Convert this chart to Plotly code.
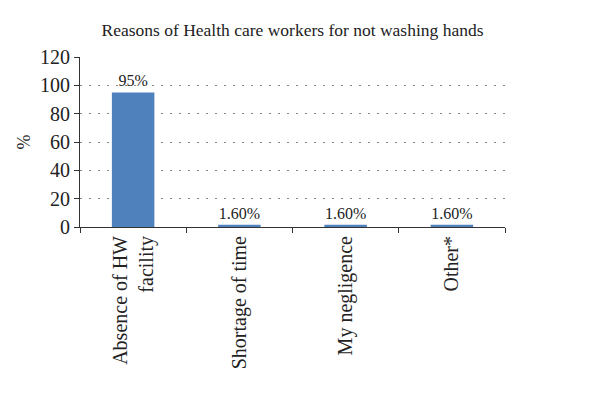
import plotly.graph_objects as go

categories = ["Absence of HW<br>facility", "Shortage of time", "My negligence", "Other*"]
values = [95, 1.6, 1.6, 1.6]
labels = ["95%", "1.60%", "1.60%", "1.60%"]
y_ticks = [0, 20, 40, 60, 80, 100, 120]

font_family = "Liberation Serif, Times New Roman, serif"

fig = go.Figure(go.Bar(
    x=categories, y=values, text=labels, textposition="outside",
    textfont=dict(family=font_family, size=16, color="#222"),
    marker=dict(color="#4F81BD", line=dict(width=0)),
    cliponaxis=False,
))

fig.update_layout(
    width=600, height=395,
    margin=dict(l=72, r=103, t=49, b=176),
    paper_bgcolor="white", plot_bgcolor="white",
    bargap=0.6,
    showlegend=False,
    font=dict(family=font_family, size=18, color="#222"),
    title=dict(text="Reasons of Health care workers for not washing hands",
               xref="paper", x=0.5, xanchor="center", y=1 - 22 / 395, yanchor="middle",
               font=dict(family=font_family, size=17.5, color="#222")),
)
fig.update_xaxes(
    tickangle=-90, tickson="boundaries", ticks="outside", ticklen=5,
    tickcolor="#333", showline=True, linecolor="#333", linewidth=1,
    showgrid=False, automargin=False,
    tickfont=dict(family=font_family, size=20, color="#222"),
)
fig.update_yaxes(
    range=[0, 120], tickvals=y_ticks, ticks="outside", ticklen=5,
    tickcolor="#333", showline=True, linecolor="#333", linewidth=1,
    showgrid=True, gridcolor="#888", griddash="2px,7px", gridwidth=1,
    zeroline=False, automargin=False,
    tickfont=dict(family=font_family, size=20, color="#222"),
    title=dict(text="%", font=dict(family=font_family, size=18, color="#222"), standoff=4),
)

fig.write_html("out.html")
